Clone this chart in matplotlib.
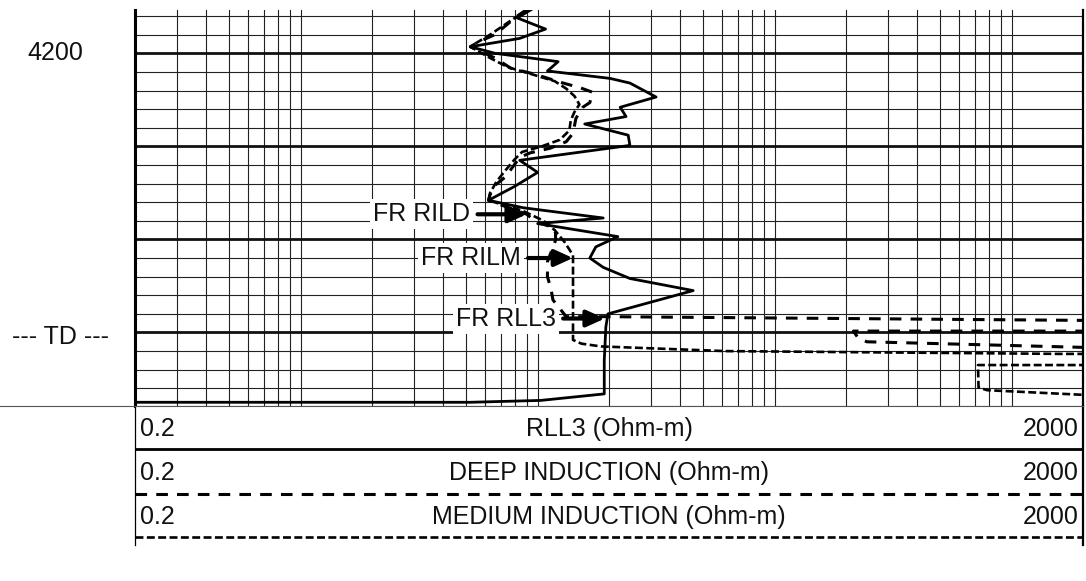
import numpy as np
import matplotlib
matplotlib.use('Agg')
import matplotlib.pyplot as plt
import matplotlib.transforms as mtransforms
from matplotlib.lines import Line2D
from matplotlib.ticker import NullLocator

plt.rcParams['font.family'] = ['Liberation Sans', 'DejaVu Sans']

# resistivity (ohm-m) against depth (ft)
rll3_depth = [4195.1, 4196.2, 4197.4, 4198.4, 4199.3, 4200.0, 4200.9, 4201.9, 4202.7, 4203.2,
              4204.7, 4205.8, 4206.8, 4207.6, 4208.8, 4209.9, 4211.5, 4212.8, 4214.3, 4215.8,
              4216.6, 4217.7, 4218.3, 4219.7, 4220.8, 4222.0, 4223.0, 4224.2, 4225.5, 4228.0,
              4229.4, 4233.0, 4236.6, 4237.3, 4237.5, 4237.5]
rll3_res = [9.7, 8.2, 10.8, 8.4, 5.2, 6.6, 12.2, 11.0, 20.2, 24.5,
            31.6, 22.3, 23.6, 15.8, 24.1, 24.5, 8.4, 10.0, 8.0, 6.2,
            8.7, 18.9, 10.0, 21.8, 17.6, 16.6, 18.9, 24.5, 45.3, 19.8,
            19.4, 19.1, 19.1, 10.3, 5.2, 0.2]

ild_depth = [4195.3, 4196.0, 4198.0, 4198.8, 4199.3, 4200.5, 4201.6, 4202.3, 4203.1, 4203.7,
             4204.2, 4205.3, 4205.8, 4207.0, 4208.6, 4209.5, 4210.2, 4210.7, 4211.2, 4213.3,
             4214.2, 4215.2, 4215.8, 4217.3, 4218.1, 4218.7, 4219.3, 4220.1, 4222.4, 4224.0,
             4225.4, 4226.5, 4228.3, 4228.3, 4228.7, 4228.8, 4229.85, 4229.85, 4230.6, 4231.0,
             4231.6, 4231.7]
ild_res = [9.0, 8.2, 6.6, 5.6, 5.2, 6.6, 7.7, 9.9, 12.4, 15.1,
           17.1, 16.6, 15.5, 14.5, 14.1, 13.2, 11.3, 9.3, 8.4, 7.3,
           6.6, 6.3, 6.2, 9.0, 9.8, 11.6, 11.9, 11.9, 11.0, 11.0,
           11.4, 11.6, 13.2, 19.2, 2000, 5000, 5000, 215, 225, 245,
           2000, 5000]

ilm_depth = [4195.3, 4196.3, 4198.0, 4198.9, 4199.3, 4200.6, 4201.5, 4202.2, 4203.0, 4203.8,
             4204.6, 4205.5, 4206.3, 4207.2, 4208.3, 4209.3, 4210.0, 4210.6, 4211.4, 4212.6,
             4213.8, 4215.0, 4215.8, 4216.9, 4218.0, 4219.0, 4220.3, 4221.7, 4230.8, 4231.2,
             4231.5, 4232.0, 4232.3, 4232.3, 4233.5, 4233.5, 4235.9, 4236.2, 4236.7, 4236.7]
ilm_res = [9.3, 7.9, 6.3, 5.5, 5.2, 6.4, 7.5, 9.3, 11.8, 13.2,
           14.3, 15.0, 14.3, 13.8, 13.6, 12.4, 10.4, 8.6, 8.0, 7.3,
           6.7, 6.3, 6.2, 8.6, 10.6, 11.8, 13.0, 14.1, 14.1, 15.3,
           18.5, 62, 1585, 5000, 5000, 721, 725, 787, 2000, 5000]

# first reading markers: label, value at arrow tip, depth, text right edge
fr_labels = ['FR RILD', 'FR RILM', 'FR RLL3']
fr_res = [9.0, 14.1, 19.2]
fr_depth = [4217.3, 4222.0, 4228.5]
fr_text_res = [5.2, 8.5, 11.95]

scale_min, scale_max = 0.2, 2000
top_depth, bottom_depth = 4195.35, 4237.9
depth_label = 4200
td_depth = 4230.5

header_names = ['RLL3 (Ohm-m)', 'DEEP INDUCTION (Ohm-m)', 'MEDIUM INDUCTION (Ohm-m)']

FS = 18
W, H = 1086, 581
fig = plt.figure(figsize=(W / 100, H / 100), dpi=100)
ax = fig.add_axes([135 / W, 1 - 406 / H, 948 / W, 396 / H])

ax.set_xscale('log')
ax.set_xlim(scale_min, scale_max)
ax.set_ylim(bottom_depth, top_depth)

grid_vals = [m * 10.0 ** e for e in range(-1, 4) for m in range(1, 10)
             if scale_min <= m * 10.0 ** e <= scale_max]
ax.set_xticks(grid_vals)
ax.xaxis.set_minor_locator(NullLocator())
ax.set_yticks(np.arange(4200, 4231, 10))
ax.set_yticks(np.arange(4196, 4238, 2), minor=True)
ax.tick_params(which='both', length=0, labelbottom=False, labelleft=False)
ax.grid(axis='x', which='major', color='#222', lw=0.8)
ax.grid(axis='y', which='major', color='#111', lw=2.0)
ax.grid(axis='y', which='minor', color='#222', lw=0.8)
ax.set_axisbelow(True)

ax.spines['top'].set_visible(False)
ax.spines['left'].set_linewidth(2.2)
ax.spines['right'].set_linewidth(1.6)
ax.spines['bottom'].set_linewidth(0.8)
ax.spines['bottom'].set_color('#555')

ax.plot(rll3_res, rll3_depth, color='k', lw=2.0, solid_joinstyle='round')
ax.plot(ild_res, ild_depth, color='k', lw=2.2, dashes=(3.8, 3.0))
ax.plot(ilm_res, ilm_depth, color='k', lw=1.9, dashes=(3.0, 1.3))

for lab, r, d, tr in zip(fr_labels, fr_res, fr_depth, fr_text_res):
    ax.annotate(lab, xy=(r, d), xytext=(tr, d), ha='right', va='center',
                fontsize=FS, color='#111',
                bbox=dict(boxstyle='square,pad=0.12', fc='white', ec='none'),
                arrowprops=dict(arrowstyle='-|>,head_length=0.55,head_width=0.25',
                                color='k', lw=3.0, mutation_scale=20,
                                shrinkA=3, shrinkB=0))

# depth labels in the left margin
trans = mtransforms.blended_transform_factory(fig.transFigure, ax.transData)
ax.text(55.5 / W, depth_label, str(depth_label), transform=trans,
        ha='center', va='center', fontsize=FS, color='#111')
ax.text(61 / W, td_depth, '--- TD ---', transform=trans,
        ha='center', va='center', fontsize=FS, color='#111')

# full width line under the track
fig.add_artist(Line2D([0, 1083 / W], [1 - 406 / H] * 2, transform=fig.transFigure,
                      color='#555', lw=0.8))

# header with curve scales
hd = fig.add_axes([135 / W, 1 - 545 / H, 948 / W, 139 / H])
hd.set_xlim(0, 1)
hd.set_ylim(0, 1)
hd.set_xticks([])
hd.set_yticks([])
hd.spines['top'].set_visible(False)
hd.spines['bottom'].set_visible(False)
hd.spines['left'].set_linewidth(0.9)
hd.spines['right'].set_linewidth(1.6)

row_text_y = [0.835, 0.52, 0.205]
row_line_y = [0.691, 0.367, 0.058]
row_styles = [dict(lw=2.0), dict(lw=2.2, dashes=(3.8, 3.0)), dict(lw=1.9, dashes=(3.0, 1.3))]
for name, ty, ly, st in zip(header_names, row_text_y, row_line_y, row_styles):
    hd.text(0.005, ty, str(scale_min), ha='left', va='center', fontsize=FS, color='#111')
    hd.text(0.5, ty, name, ha='center', va='center', fontsize=FS, color='#111')
    hd.text(0.995, ty, str(scale_max), ha='right', va='center', fontsize=FS, color='#111')
    hd.plot([0, 1], [ly, ly], color='k', **st)

fig.savefig('out.png', dpi=100)
